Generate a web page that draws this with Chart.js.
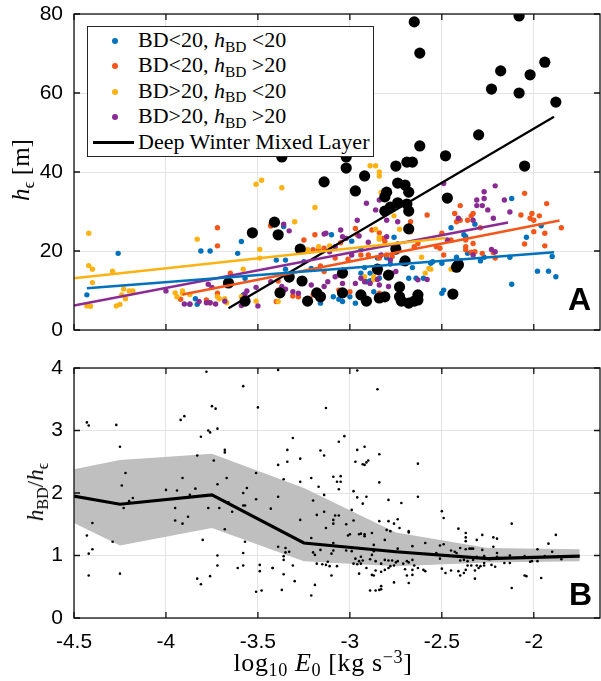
<!DOCTYPE html>
<html>
<head>
<meta charset="utf-8">
<script src="https://cdn.jsdelivr.net/npm/chart.js@4.4.1/dist/chart.umd.min.js"></script>
<style>
  body { margin: 0; width: 601px; height: 681px; background: #fff; position: relative; overflow: hidden; }
  canvas { position: absolute; left: 0; }
  .tex { font-family: 'Liberation Serif', serif; color: #000; white-space: nowrap; position: absolute; }
  .tex sub { font-size: 70%; vertical-align: baseline; position: relative; top: 0.3em; }
  .tex sup { font-size: 70%; vertical-align: baseline; position: relative; top: -0.45em; }
  .panel-tag { position: absolute; font-family: 'Liberation Sans', Arial, sans-serif; font-weight: bold; font-size: 32px; line-height: 32px; }
  #legend { position: absolute; left: 87px; top: 26px; width: 285px; height: 129px; border: 1px solid #262626; background: #fff; }
  .leg-row { position: absolute; left: 0; height: 24px; width: 100%; }
  .leg-dot { position: absolute; left: 24px; top: 9px; width: 6px; height: 6px; border-radius: 50%; }
  .leg-line { position: absolute; left: 5px; top: 10px; width: 41px; height: 3px; background: #000; }
  .leg-text { position: absolute; left: 50px; top: -2px; font-size: 22px; line-height: 26px; }
</style>
</head>
<body>
<canvas id="topChart" width="601" height="340" style="top:0"></canvas>
<canvas id="bottomChart" width="601" height="341" style="top:340px"></canvas>

<div id="legend"></div>
<div class="tex" id="ylabTop" style="left:21px; top:170px; font-size:25px; transform:translate(-50%,-50%) rotate(-90deg);"><i>h</i><sub>ϵ</sub> [m]</div>
<div class="tex" id="ylabBottom" style="left:36px; top:492px; font-size:23px; transform:translate(-50%,-50%) rotate(-90deg);"><i>h</i><sub>BD</sub>/<i>h</i><sub>ϵ</sub></div>
<div class="tex" id="xlab" style="left:323px; top:663px; font-size:26px; letter-spacing:0.6px; transform:translate(-50%,-50%);">log<sub>10</sub> <i>E</i><sub>0</sub> [kg s<sup>−3</sup>]</div>
<div class="panel-tag" style="left:568px; top:283px;">A</div>
<div class="panel-tag" style="left:569px; top:578px;">B</div>

<script>
// ---- data ----
const xTicks = [-4.5, -4, -3.5, -3, -2.5, -2];
const yTicksTop = [0, 20, 40, 60, 80];
const yTicksBottom = [0, 1, 2, 3, 4];

// panel A: [log10 E0, h_eps]
const blueDots = [
  [-4.43,8.9],[-4.26,19.4],[-3.81,20.0],[-3.76,20.0],[-3.61,19.4],[-3.59,22.4],[-3.57,13.1],[-3.84,7.9],[-3.87,6.5],[-3.83,6.5],
  [-3.58,8.9],[-3.36,26.2],[-3.40,17.7],[-3.35,17.7],[-3.35,15.4],[-3.10,24.1],[-2.99,22.5],[-2.94,20.4],[-2.85,18.2],[-2.80,18.3],
  [-2.76,23.5],[-2.78,16.7],[-2.72,17.0],[-2.66,15.8],[-2.89,14.4],[-2.92,15.8],[-2.94,14.4],[-2.91,12.2],[-2.89,12.5],[-2.84,13.1],
  [-2.87,9.7],[-3.09,8.4],[-3.06,7.8],[-3.04,7.2],[-3.00,8.4],[-3.16,6.8],[-2.97,6.8],[-2.68,13.1],[-2.64,13.1],[-2.60,13.1],
  [-2.55,17.3],[-3.25,17.3],[-3.21,15.6],[-2.12,33.3],[-1.96,26.4],[-2.04,23.5],[-2.45,25.9],[-2.38,24.1],[-2.37,23.6],[-2.32,26.8],
  [-2.42,18.4],[-2.36,19.4],[-2.29,17.5],[-2.27,18.4],[-2.13,18.4],[-1.90,18.6],[-2.50,16.9],[-2.56,16.9],[-1.98,14.9],[-1.92,14.9],
  [-1.88,13.5],[-2.12,11.6],[-2.50,9.3],[-2.49,10.1],[-2.40,17.5]
];
const orangeDots = [
  [-3.72,25.9],[-3.72,21.3],[-3.65,14.4],[-3.43,26.3],[-3.39,12.4],[-3.39,10.1],[-3.31,8.6],[-3.92,7.8],[-3.78,7.6],[-3.72,9.3],
  [-3.76,6.9],[-3.43,26.6],[-3.19,24.1],[-3.25,22.8],[-3.20,20.3],[-3.17,20.3],[-3.14,20.7],[-3.05,22.1],[-2.97,25.7],[-2.96,24.1],
  [-2.88,25.3],[-2.84,24.6],[-2.82,23.2],[-2.81,22.4],[-2.67,27.4],[-2.58,29.1],[-2.67,24.9],[-2.65,21.1],[-2.63,21.9],[-2.80,19.0],
  [-2.77,18.6],[-2.84,18.2],[-3.01,17.9],[-2.94,19.0],[-3.08,18.2],[-2.90,19.0],[-3.16,16.2],[-3.14,14.8],[-3.28,8.4],[-3.40,7.2],
  [-3.06,10.1],[-3.00,9.7],[-2.84,9.3],[-2.74,8.4],[-3.20,8.9],[-3.23,7.6],[-2.05,34.6],[-1.93,32.0],[-2.40,31.5],[-2.43,29.5],
  [-2.33,29.5],[-2.34,28.9],[-2.40,27.8],[-2.42,27.4],[-2.36,27.8],[-2.07,29.1],[-2.01,29.5],[-2.02,28.3],[-2.00,27.8],[-1.97,28.9],
  [-2.00,24.9],[-1.94,24.5],[-1.85,25.9],[-2.05,21.8],[-1.94,21.3],[-2.50,24.5],[-2.53,21.1],[-2.51,20.7],[-2.45,22.8],[-2.37,22.8],
  [-2.37,21.1],[-2.37,20.3],[-2.33,21.9],[-2.34,19.7],[-2.32,19.8],[-2.28,19.4],[-2.22,19.6],[-2.21,18.2],[-2.29,25.9],[-2.49,19.0]
];
const yellowDots = [
  [-4.42,24.5],[-4.42,16.3],[-4.40,15.4],[-4.40,12.0],[-4.43,6.1],[-4.41,6.0],[-4.29,14.9],[-4.24,8.9],[-4.25,6.5],[-4.27,6.1],
  [-4.23,10.4],[-4.22,7.9],[-4.20,9.9],[-4.18,9.9],[-3.83,23.0],[-3.95,9.4],[-3.94,8.4],[-3.91,9.9],[-3.91,9.3],[-3.87,9.0],
  [-3.72,8.4],[-3.71,7.9],[-3.68,7.9],[-3.67,6.9],[-3.58,15.4],[-3.59,8.4],[-3.51,7.3],[-3.51,36.9],[-3.48,37.9],[-3.49,20.4],
  [-3.49,18.2],[-2.89,41.6],[-2.86,41.6],[-2.84,40.0],[-2.84,39.0],[-3.37,36.0],[-3.19,31.0],[-3.30,27.4],[-2.83,34.8],[-2.86,25.5],
  [-2.76,28.9],[-2.73,25.5],[-2.84,23.4],[-2.84,23.0],[-3.11,21.3],[-3.17,21.1],[-3.23,20.3],[-2.61,18.4],[-3.39,7.2],[-2.87,13.5],
  [-2.87,12.8],[-2.92,13.5],[-2.59,14.4],[-2.57,15.6],[-2.74,10.7],[-2.45,15.4],[-2.56,15.4]
];
const purpleDots = [
  [-4.00,9.9],[-3.77,11.6],[-3.75,10.8],[-3.90,6.6],[-3.87,6.6],[-3.82,7.2],[-3.78,6.9],[-3.76,6.9],[-3.73,6.6],[-3.68,7.3],
  [-3.59,6.2],[-3.56,9.9],[-3.50,6.1],[-3.51,10.8],[-3.43,12.2],[-3.36,26.8],[-3.33,25.1],[-3.35,10.3],[-3.57,9.1],[-2.91,32.1],
  [-2.84,32.9],[-2.86,30.4],[-2.96,27.8],[-3.05,25.3],[-3.14,24.3],[-3.02,23.2],[-2.95,23.8],[-2.90,22.2],[-2.80,23.6],[-2.74,21.8],
  [-3.08,21.1],[-3.11,19.8],[-2.99,19.0],[-2.83,19.0],[-2.78,17.7],[-2.94,13.1],[-2.92,12.2],[-2.89,11.8],[-2.84,11.4],[-2.79,11.0],
  [-3.08,13.5],[-3.04,11.8],[-3.14,11.0],[-3.21,11.4],[-3.37,11.0],[-3.31,9.7],[-3.28,9.3],[-2.97,11.8],[-2.73,11.0],[-2.21,36.5],
  [-2.27,35.0],[-2.31,32.9],[-2.27,33.3],[-2.16,32.9],[-2.31,31.5],[-2.28,31.5],[-2.25,30.4],[-2.13,29.9],[-2.41,28.3],[-2.33,27.8],
  [-2.22,28.3],[-2.49,37.1],[-2.23,20.4],[-2.21,19.8],[-2.80,27.8],[-2.74,27.4],[-3.04,23.6],[-3.13,24.5],[-3.12,12.2],[-3.06,13.9],
  [-2.85,12.8],[-2.84,14.4],[-2.77,14.4],[-2.75,14.8],[-2.63,12.7],[-2.58,12.8],[-2.47,22.8],[-2.33,19.0]
];
const winterDots = [
  [-3.66,11.9],[-3.57,7.3],[-3.53,24.6],[-3.41,27.3],[-3.39,24.1],[-3.37,43.8],[-3.33,13.4],[-3.38,9.4],[-3.27,20.5],[-3.26,12.4],
  [-2.65,78.0],[-2.62,70.1],[-2.08,79.5],[-1.94,67.8],[-2.18,65.6],[-2.02,64.6],[-2.23,61.0],[-2.08,60.0],[-1.88,57.7],[-2.30,49.4],
  [-2.62,46.6],[-2.48,44.1],[-2.05,41.5],[-3.02,43.8],[-3.02,41.0],[-3.14,37.5],[-2.92,39.0],[-2.97,35.2],[-2.75,41.5],[-2.69,42.5],
  [-2.66,42.5],[-2.74,37.2],[-2.70,36.7],[-2.68,34.9],[-2.80,34.9],[-2.81,33.7],[-2.47,33.4],[-2.74,32.2],[-2.69,31.9],[-2.78,31.1],
  [-2.81,30.1],[-2.68,30.1],[-2.68,25.6],[-2.75,20.5],[-2.70,17.5],[-2.85,15.4],[-3.04,14.4],[-2.79,13.9],[-2.41,16.5],[-2.42,15.9],
  [-2.73,10.9],[-3.18,9.4],[-3.16,8.4],[-3.04,9.4],[-3.23,7.3],[-2.94,8.9],[-2.91,7.3],[-2.84,8.1],[-2.81,8.4],[-2.73,8.4],
  [-2.72,7.3],[-2.68,6.8],[-2.65,7.3],[-2.63,8.9],[-2.63,7.6],[-2.44,9.1]
];
// linear fits (end points)
const fitBlue = [[-4.43,10.6],[-1.89,19.7]];
const fitOrange = [[-3.91,9.0],[-1.86,27.7]];
const fitYellow = [[-4.5,13.1],[-2.48,23.3]];
const fitPurple = [[-4.5,6.2],[-2.14,27.2]];
const fitWinter = [[-3.66,5.5],[-1.89,54.0]];

// panel B: [log10 E0, h_BD/h_eps]
const ratioDots = [
  [-4.43,3.13],[-4.42,3.08],[-4.27,3.09],[-4.25,2.74],[-4.22,2.32],[-4.24,2.12],[-4.20,1.87],[-4.18,1.92],[-4.23,1.76],[-4.40,1.52],
  [-4.43,1.32],[-4.29,1.22],[-4.40,1.10],[-4.42,1.03],[-4.42,0.68],[-4.25,0.71],[-3.78,3.94],[-3.58,3.71],[-3.75,3.39],[-3.73,3.35],
  [-3.50,3.37],[-3.92,3.17],[-3.90,3.23],[-3.72,3.03],[-3.77,3.00],[-3.76,2.97],[-3.81,2.90],[-3.68,2.69],[-3.68,2.65],[-3.83,2.60],
  [-3.74,2.52],[-3.51,2.32],[-3.91,2.24],[-3.67,2.24],[-3.72,2.14],[-3.56,2.08],[-3.58,2.00],[-4.00,2.05],[-3.94,2.04],[-3.87,1.97],
  [-3.84,2.07],[-3.51,1.90],[-3.66,1.85],[-3.58,1.80],[-3.57,1.80],[-3.77,1.76],[-3.71,1.76],[-3.95,1.76],[-3.64,1.70],[-3.43,1.75],
  [-3.88,1.62],[-3.95,1.56],[-3.91,1.51],[-3.68,1.42],[-3.80,1.25],[-3.57,1.22],[-3.58,1.04],[-3.72,1.00],[-3.72,0.84],[-3.58,0.84],
  [-3.61,0.80],[-3.49,0.85],[-3.49,0.75],[-3.42,0.80],[-3.76,0.67],[-3.83,0.63],[-3.81,0.54],[-3.51,0.42],[-3.48,0.44],
  [-3.39,3.97],[-2.96,3.96],[-2.85,3.66],[-3.13,3.36],[-3.31,2.88],[-3.03,2.91],[-3.06,2.82],[-3.34,2.69],[-3.16,2.68],[-3.14,2.60],
  [-3.27,2.55],[-3.34,2.50],[-3.39,2.45],[-2.96,2.69],[-2.92,2.74],[-2.97,2.50],[-2.93,2.46],[-2.92,2.45],[-2.91,2.49],[-2.90,2.52],
  [-2.84,2.62],[-2.63,2.47],[-3.36,2.22],[-3.21,2.24],[-3.09,2.26],[-3.05,2.27],[-3.07,2.18],[-3.05,2.18],[-3.06,2.06],[-3.17,2.10],
  [-2.98,2.03],[-2.84,2.17],[-3.27,2.18],[-3.39,1.94],[-3.14,1.97],[-3.20,1.88],[-2.96,1.93],[-2.91,1.94],[-2.79,1.89],[-2.72,1.84],
  [-2.63,1.94],[-2.93,1.83],[-2.99,1.73],[-3.18,1.65],[-3.14,1.70],[-3.08,1.64],[-3.06,1.64],[-3.27,1.57],[-3.13,1.44],[-3.09,1.57],
  [-3.09,1.51],[-3.02,1.50],[-3.01,1.32],[-3.00,1.34],[-2.98,1.56],[-2.95,1.34],[-2.94,1.35],[-2.92,1.34],[-2.92,1.31],[-2.88,1.36],
  [-2.84,1.55],[-2.79,1.55],[-2.76,1.51],[-2.74,1.58],[-2.80,1.41],[-2.78,1.39],[-2.73,1.44],[-2.68,1.39],[-2.68,1.37],[-2.81,1.25],
  [-2.87,1.17],[-2.74,1.11],[-2.66,1.15],[-2.59,1.20],[-3.39,1.14],[-3.35,1.12],[-3.33,1.06],[-3.35,1.05],[-3.21,1.28],[-3.16,1.09],
  [-3.19,1.01],[-3.20,1.05],[-3.09,1.20],[-3.09,1.08],[-3.10,1.03],[-3.18,0.87],[-3.15,0.86],[-3.13,0.85],[-3.11,0.83],[-3.12,0.90],
  [-3.07,0.83],[-3.02,1.08],[-2.99,1.07],[-2.97,0.95],[-2.95,0.91],[-2.93,0.92],[-2.94,0.98],[-2.98,0.87],[-2.96,0.86],[-2.94,0.87],
  [-2.91,0.80],[-2.89,0.94],[-2.88,1.01],[-2.87,1.07],[-2.86,0.91],[-2.83,0.87],[-2.81,0.93],[-2.79,0.92],[-2.77,0.92],[-2.75,0.89],
  [-2.74,0.91],[-2.86,0.76],[-2.83,0.74],[-2.81,0.77],[-2.79,0.80],[-2.78,0.83],[-2.76,0.84],[-2.88,0.69],[-2.87,0.68],[-2.71,0.87],
  [-2.69,0.91],[-2.68,0.89],[-2.66,0.93],[-2.70,0.78],[-2.66,0.77],[-2.65,0.84],[-2.63,0.80],[-2.60,0.77],[-2.59,0.75],[-2.69,0.68],
  [-2.66,0.69],[-2.76,0.57],[-2.68,0.56],[-2.95,0.71],[-3.10,0.68],[-3.36,0.99],[-3.36,0.93],[-3.31,0.84],[-3.42,0.80],[-3.36,0.70],
  [-3.30,0.59],[-3.19,0.53],[-3.21,0.36],[-3.37,0.45],[-2.89,0.44],[-2.86,0.44],[-2.84,0.45],[-2.83,0.46],[-2.83,0.51],
  [-2.50,1.71],[-2.49,1.60],[-2.12,1.51],[-2.41,1.43],[-2.37,1.36],[-2.37,1.29],[-2.37,1.23],[-2.28,1.33],[-2.22,1.29],[-2.20,1.27],
  [-1.88,1.33],[-2.31,1.25],[-1.92,1.19],[-2.51,1.16],[-2.49,1.18],[-2.45,1.08],[-2.43,1.06],[-2.42,1.04],[-2.40,1.12],[-2.37,1.10],
  [-2.35,1.11],[-2.34,1.11],[-2.33,1.11],[-2.28,1.09],[-2.22,1.14],[-2.20,1.04],[-1.98,1.10],[-1.90,1.06],[-2.53,1.04],[-2.51,0.95],
  [-2.41,0.99],[-2.40,0.92],[-2.38,0.93],[-2.36,0.91],[-2.33,0.93],[-2.31,0.98],[-2.27,0.99],[-2.24,0.94],[-2.20,0.98],[-2.13,1.00],
  [-2.05,0.99],[-2.02,0.90],[-2.01,0.91],[-1.98,0.91],[-1.94,0.99],[-1.85,0.94],[-2.50,0.79],[-2.48,0.72],[-2.45,0.76],[-2.41,0.75],
  [-2.40,0.68],[-2.38,0.72],[-2.37,0.77],[-2.36,0.84],[-2.34,0.84],[-2.31,0.84],[-2.30,0.80],[-2.29,0.83],[-2.27,0.84],[-2.27,0.88],
  [-2.32,0.76],[-2.23,0.85],[-2.21,0.82],[-2.16,0.88],[-2.13,0.88],[-2.32,0.63],[-2.05,0.68],[-2.04,0.67],[-1.96,0.64],[-2.12,0.48]
];
// binned median and spread
const binX = [-4.75, -4.25, -3.75, -3.25, -2.75, -2.25, -1.75];
const binMedian = [2.08, 1.82, 1.97, 1.20, 1.06, 0.95, 0.99];
const binUpper = [2.23, 2.53, 2.63, 2.08, 1.37, 1.12, 1.10];
const binLower = [1.88, 1.16, 1.44, 0.91, 0.83, 0.89, 0.91];

const legendLabels = [
  'BD&lt;20, <i>h</i><sub>BD</sub> &lt;20',
  'BD&lt;20, <i>h</i><sub>BD</sub> &gt;20',
  'BD&gt;20, <i>h</i><sub>BD</sub> &lt;20',
  'BD&gt;20, <i>h</i><sub>BD</sub> &gt;20',
  'Deep Winter Mixed Layer'
];
const colors = ['#0072BD', '#F4561A', '#FDB213', '#8A2B93'];

// ---- helpers ----
const toXY = (arr) => arr.map(p => ({ x: p[0], y: p[1] }));

Chart.defaults.font.family = "'Liberation Sans', Arial, sans-serif";
Chart.defaults.font.size = 21;
Chart.defaults.color = '#000';

// box and inward ticks like a matlab axes
const framePlugin = {
  id: 'frame',
  afterDatasetsDraw(chart) {
    const { ctx, chartArea: a, scales } = chart;
    ctx.save();
    ctx.strokeStyle = '#111';
    ctx.lineWidth = 1.3;
    ctx.strokeRect(a.left, a.top, a.right - a.left, a.bottom - a.top);
    ctx.beginPath();
    scales.x.ticks.forEach(t => {
      const px = scales.x.getPixelForValue(t.value);
      ctx.moveTo(px, a.bottom); ctx.lineTo(px, a.bottom - 6);
      ctx.moveTo(px, a.top); ctx.lineTo(px, a.top + 6);
    });
    scales.y.ticks.forEach(t => {
      const py = scales.y.getPixelForValue(t.value);
      ctx.moveTo(a.left, py); ctx.lineTo(a.left + 6, py);
      ctx.moveTo(a.right, py); ctx.lineTo(a.right - 6, py);
    });
    ctx.stroke();
    ctx.restore();
  }
};

// fixed axis sizes, no label overhang, so the plot box lands where the figure has it
function axisX(showLabels, height) {
  return {
    type: 'linear', min: -4.5, max: -1.64,
    afterBuildTicks: (s) => { s.ticks = xTicks.map(v => ({ value: v })); },
    afterFit: (s) => { s.height = height; s.paddingLeft = 0; s.paddingRight = 0; },
    ticks: { display: showLabels, padding: 12, maxRotation: 0, autoSkip: false, callback: (v) => String(v) },
    grid: { color: '#e4e4e4', drawTicks: false },
    border: { display: false }
  };
}

function axisY(min, max, ticks) {
  return {
    type: 'linear', min: min, max: max,
    afterBuildTicks: (s) => { s.ticks = ticks.map(v => ({ value: v })); },
    afterFit: (s) => { s.width = 74; s.paddingTop = 0; s.paddingBottom = 0; },
    ticks: { padding: 11, callback: (v) => String(v) },
    grid: { color: '#e4e4e4', drawTicks: false },
    border: { display: false }
  };
}

function dots(data, color, r, order) {
  return { type: 'scatter', data: toXY(data), backgroundColor: color, borderWidth: 0, pointRadius: r, pointHoverRadius: r, order: order };
}

function fitLine(data, color, w) {
  return { type: 'line', data: toXY(data), borderColor: color, borderWidth: w, pointRadius: 0, fill: false, order: 0, clip: 0 };
}

const topChart = new Chart(document.getElementById('topChart'), {
  type: 'scatter',
  data: {
    datasets: [
      dots(blueDots, colors[0], 2.7, 5),
      dots(orangeDots, colors[1], 2.7, 4),
      dots(yellowDots, colors[2], 2.7, 3),
      dots(purpleDots, colors[3], 2.7, 2),
      dots(winterDots, '#000', 5.6, 1),
      fitLine(fitBlue, colors[0], 2.5),
      fitLine(fitOrange, colors[1], 2.5),
      fitLine(fitYellow, colors[2], 2.5),
      fitLine(fitPurple, colors[3], 2.5),
      fitLine(fitWinter, '#000', 2.2)
    ]
  },
  options: {
    responsive: false,
    animation: false,
    devicePixelRatio: 1,
    layout: { autoPadding: false, padding: { top: 14, right: 1, left: 0, bottom: 0 } },
    plugins: { legend: { display: false }, tooltip: { enabled: false } },
    scales: { x: axisX(false, 10), y: axisY(0, 80, yTicksTop) }
  },
  plugins: [framePlugin]
});

const bottomChart = new Chart(document.getElementById('bottomChart'), {
  type: 'scatter',
  data: {
    datasets: [
      { type: 'line', data: binX.map((x, i) => ({ x: x, y: binUpper[i] })), borderWidth: 0, pointRadius: 0,
        backgroundColor: '#bfbfbf', fill: '+1', order: 3, clip: 0 },
      { type: 'line', data: binX.map((x, i) => ({ x: x, y: binLower[i] })), borderWidth: 0, pointRadius: 0,
        fill: false, order: 3, clip: 0 },
      dots(ratioDots, '#000', 1.3, 2),
      { type: 'line', data: binX.map((x, i) => ({ x: x, y: binMedian[i] })), borderColor: '#000', borderWidth: 3.2,
        pointRadius: 0, fill: false, order: 1, clip: 0 }
    ]
  },
  options: {
    responsive: false,
    animation: false,
    devicePixelRatio: 1,
    layout: { autoPadding: false, padding: { top: 28, right: 1, left: 0, bottom: 0 } },
    plugins: { legend: { display: false }, tooltip: { enabled: false } },
    scales: { x: axisX(true, 63), y: axisY(0, 4, yTicksBottom) }
  },
  plugins: [framePlugin]
});

// html legend for panel A, built from the same colours
const legend = document.getElementById('legend');
legendLabels.forEach((label, i) => {
  const row = document.createElement('div');
  row.className = 'leg-row';
  row.style.top = (2 + i * 25.4) + 'px';
  const mark = document.createElement('div');
  if (i < 4) {
    mark.className = 'leg-dot';
    mark.style.background = colors[i];
  } else {
    mark.className = 'leg-line';
  }
  const text = document.createElement('div');
  text.className = 'leg-text tex';
  text.innerHTML = label;
  row.appendChild(mark);
  row.appendChild(text);
  legend.appendChild(row);
});
</script>
</body>
</html>
